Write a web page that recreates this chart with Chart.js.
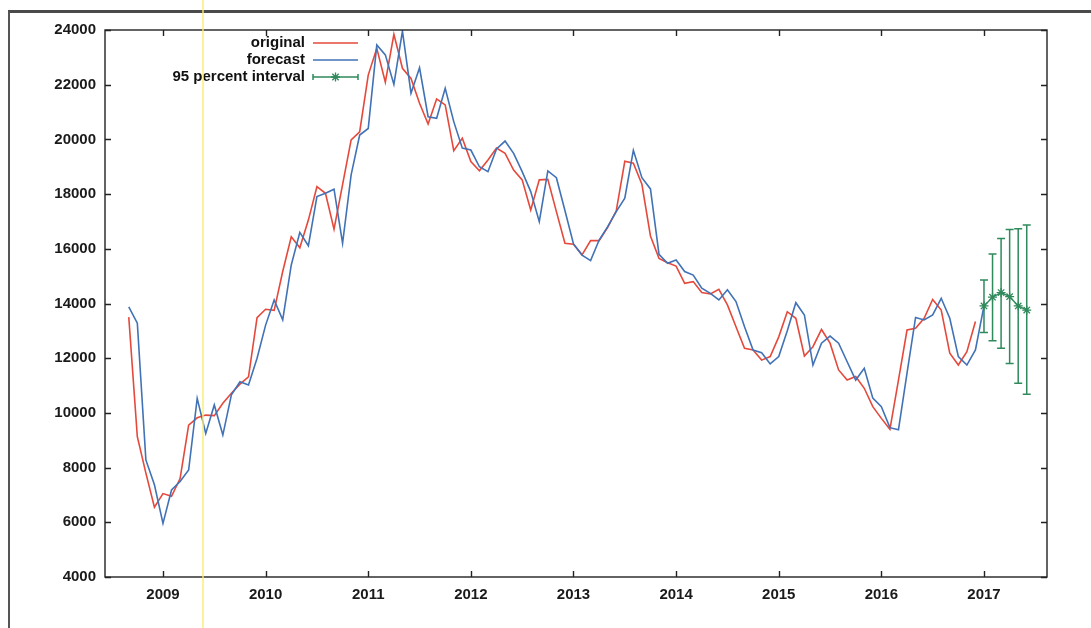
<!DOCTYPE html>
<html>
<head>
<meta charset="utf-8">
<title>original / forecast</title>
<script src="https://cdn.jsdelivr.net/npm/chart.js@4.4.1/dist/chart.umd.min.js"></script>
<style>
  html, body { margin: 0; padding: 0; background: #fff; }
  #wrap { position: relative; width: 1091px; height: 628px; overflow: hidden; }
  #scan { position: absolute; left: 8px; top: 10px; right: -10px; bottom: -10px;
          border-top: 3px solid #4a4a4a; border-left: 2px solid #555; }
  #streak { position: absolute; left: 202px; top: 0; width: 2px; height: 628px;
            background: rgba(250, 238, 110, 0.7); }
  canvas { position: absolute; left: 0; top: 0; }
</style>
</head>
<body>
<div id="wrap">
  <div id="scan"></div>
  <canvas id="chart" width="1091" height="628"></canvas>
  <div id="streak"></div>
</div>
<script>
// monthly series, first point is Sep 2008
const startYear = 2008;
const startMonth = 9;

const original = [
  13500, 9130, 7800, 6550,
  7050, 6950, 7600, 9550, 9820, 9920, 9900, 10350, 10720, 11050, 11320, 13480,
  13790, 13750, 15170, 16440, 16040, 17050, 18270, 18030, 16720, 18350, 19980, 20280,
  22350, 23330, 22090, 23840, 22600, 22230, 21320, 20560, 21480, 21260, 19590, 20040,
  19190, 18850, 19250, 19680, 19490, 18880, 18520, 17420, 18520, 18540, 17360, 16200,
  16170, 15780, 16300, 16300, 16780, 17390, 19200, 19130, 18360, 16470, 15650, 15490,
  15370, 14740, 14800, 14400, 14350, 14520, 13950, 13150, 12360, 12300, 11930, 12060,
  12780, 13700, 13460, 12080, 12420, 13050, 12550, 11570, 11200, 11330, 10900, 10230,
  9800, 9400, 11200, 13030, 13090, 13460, 14150, 13760, 12180, 11750, 12240, 13340
];

const forecast = [
  13880, 13280, 8280, 7370,
  5960, 7180, 7490, 7910, 10530, 9250, 10290, 9190, 10660, 11140, 11020, 12000,
  13210, 14130, 13400, 15410, 16600, 16110, 17910, 18030, 18180, 16200, 18700, 20160,
  20400, 23450, 23090, 22010, 23960, 21690, 22620, 20830, 20770, 21870, 20650, 19680,
  19610, 19000, 18820, 19650, 19940, 19490, 18820, 18090, 16990, 18850, 18600, 17400,
  16180, 15770, 15570, 16320, 16810, 17360, 17850, 19600, 18600, 18190, 15800, 15470,
  15590, 15170, 15040, 14560, 14370, 14130, 14500, 14070, 13150, 12300, 12200, 11790,
  12060, 13000, 14030, 13580, 11750, 12550, 12810, 12550, 11870, 11200, 11630, 10540,
  10230, 9460, 9380, 11450, 13490, 13400, 13580, 14190, 13460, 12060, 11750, 12300,
  13910
];

// Jan 2017 .. Jun 2017
const intervalMid  = [13910, 14230, 14400, 14250, 13910, 13760];
const intervalLow  = [12940, 12640, 12360, 11810, 11080, 10680];
const intervalHigh = [14860, 15810, 16380, 16710, 16730, 16870];

const yearTicks = [2009, 2010, 2011, 2012, 2013, 2014, 2015, 2016, 2017];
const xMin = 2008.435;
const xMax = 2017.614;
const yMin = 4000;
const yMax = 24000;
const yStep = 2000;

const RED = '#e5493b';
const BLUE = '#4172b6';
const GREEN = '#2f8a5c';
const FONT = { family: '"Liberation Sans", Arial, sans-serif', size: 15, weight: 'bold' };

function monthPos(i) {
  return startYear + (startMonth - 1 + i) / 12;
}

const intervalStart = forecast.length - 1;

const errorBars = {
  id: 'errorBars',
  afterDatasetsDraw(chart) {
    const { ctx, scales: { x, y } } = chart;
    ctx.save();
    ctx.strokeStyle = GREEN;
    ctx.lineWidth = 1.5;
    ctx.beginPath();
    intervalMid.forEach((v, i) => {
      const px = x.getPixelForValue(monthPos(intervalStart + i));
      const top = y.getPixelForValue(intervalHigh[i]);
      const bot = y.getPixelForValue(intervalLow[i]);
      ctx.moveTo(px, top); ctx.lineTo(px, bot);
      ctx.moveTo(px - 4, top); ctx.lineTo(px + 4, top);
      ctx.moveTo(px - 4, bot); ctx.lineTo(px + 4, bot);
    });
    ctx.stroke();
    ctx.restore();
  }
};

const frame = {
  id: 'frame',
  afterDraw(chart) {
    const { ctx, chartArea: a, scales: { x, y } } = chart;
    ctx.save();
    ctx.strokeStyle = '#222';
    ctx.lineWidth = 1.4;
    ctx.strokeRect(a.left, a.top, a.right - a.left, a.bottom - a.top);
    ctx.beginPath();
    x.ticks.forEach(t => {
      const px = Math.round(x.getPixelForValue(t.value)) + 0.5;
      ctx.moveTo(px, a.bottom); ctx.lineTo(px, a.bottom - 6);
      ctx.moveTo(px, a.top); ctx.lineTo(px, a.top + 6);
    });
    y.ticks.forEach(t => {
      const py = Math.round(y.getPixelForValue(t.value)) + 0.5;
      ctx.moveTo(a.left, py); ctx.lineTo(a.left + 6, py);
      ctx.moveTo(a.right, py); ctx.lineTo(a.right - 6, py);
    });
    ctx.stroke();

    // key, gnuplot style: text right aligned, sample to its right
    ctx.font = 'bold 15px "Liberation Sans", Arial, sans-serif';
    ctx.textAlign = 'right';
    ctx.textBaseline = 'middle';
    const textRight = 305, x0 = 313, x1 = 358;
    chart.data.datasets.forEach((ds, i) => {
      const ly = 43 + i * 17;
      ctx.fillStyle = '#111';
      ctx.fillText(ds.label, textRight, ly);
      ctx.strokeStyle = ds.borderColor;
      ctx.lineWidth = 1.5;
      ctx.beginPath();
      ctx.moveTo(x0, ly); ctx.lineTo(x1, ly);
      if (ds.pointStyle === 'star') {
        ctx.moveTo(x0, ly - 3); ctx.lineTo(x0, ly + 3);
        ctx.moveTo(x1, ly - 3); ctx.lineTo(x1, ly + 3);
      }
      ctx.stroke();
      if (ds.pointStyle === 'star') {
        ctx.lineWidth = 1.3;
        Chart.helpers.drawPoint(ctx, { pointStyle: 'star', radius: 4.5, rotation: 0, borderWidth: 1.3 }, (x0 + x1) / 2, ly);
      }
    });
    ctx.restore();
  }
};

new Chart(document.getElementById('chart'), {
  type: 'line',
  data: {
    datasets: [
      {
        label: 'original',
        data: original.map((v, i) => ({ x: monthPos(i), y: v })),
        borderColor: RED,
        borderWidth: 1.6,
        pointRadius: 0,
        order: 3
      },
      {
        label: 'forecast',
        data: forecast.map((v, i) => ({ x: monthPos(i), y: v })),
        borderColor: BLUE,
        borderWidth: 1.6,
        pointRadius: 0,
        order: 2
      },
      {
        label: '95 percent interval',
        data: intervalMid.map((v, i) => ({ x: monthPos(intervalStart + i), y: v })),
        borderColor: GREEN,
        backgroundColor: GREEN,
        borderWidth: 1.4,
        pointStyle: 'star',
        pointRadius: 4.5,
        pointBorderWidth: 1.3,
        order: 1
      }
    ]
  },
  options: {
    responsive: false,
    animation: false,
    layout: { padding: { top: 30, right: 44, left: 0, bottom: 0 } },
    plugins: { legend: { display: false }, tooltip: { enabled: false } },
    elements: { line: { tension: 0 } },
    scales: {
      x: {
        type: 'linear',
        min: xMin,
        max: xMax,
        grid: { display: false, drawTicks: false },
        border: { display: false },
        afterBuildTicks: s => { s.ticks = yearTicks.map(v => ({ value: v })); },
        afterFit: s => { s.height = 51; },
        ticks: { padding: 9, color: '#1a1a1a', font: FONT, maxRotation: 0, callback: v => String(v) }
      },
      y: {
        min: yMin,
        max: yMax,
        grid: { display: false, drawTicks: false },
        border: { display: false },
        afterFit: s => { s.width = 105; },
        ticks: { stepSize: yStep, padding: 9, color: '#1a1a1a', font: FONT, callback: v => String(v) }
      }
    }
  },
  plugins: [errorBars, frame]
});
</script>
</body>
</html>
